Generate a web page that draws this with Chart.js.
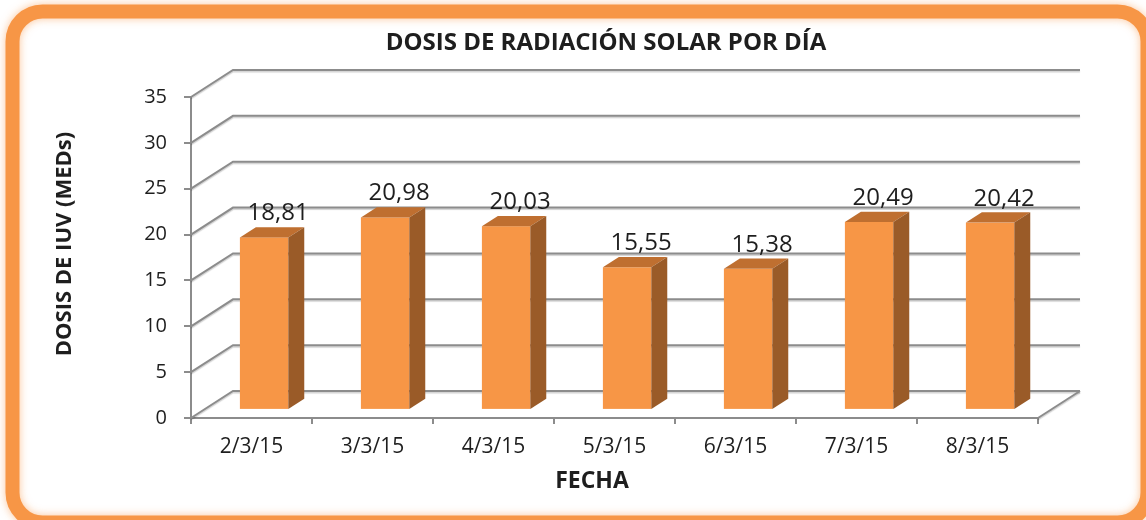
<!DOCTYPE html>
<html>
<head>
<meta charset="utf-8">
<script src="https://cdn.jsdelivr.net/npm/chart.js@4.4.1/dist/chart.umd.min.js"></script>
<style>
  html, body { margin: 0; padding: 0; background: #fff; }
  #wrap { width: 1146px; height: 520px; position: relative; }
</style>
</head>
<body>
<div id="wrap"><canvas id="dosisChart"></canvas></div>
<script>
// Datos
const fechas = ['2/3/15', '3/3/15', '4/3/15', '5/3/15', '6/3/15', '7/3/15', '8/3/15'];
const dosis = [18.81, 20.98, 20.03, 15.55, 15.38, 20.49, 20.42];
const ejeYMin = 0;
const ejeYMax = 35;
const ejeYPaso = 5;

const titulo = 'DOSIS DE RADIACIÓN SOLAR POR DÍA';
const tituloEjeY = 'DOSIS DE IUV (MEDs)';
const tituloEjeX = 'FECHA';

// Perspectiva 3D (pared del fondo y profundidad de las barras)
const FONDO_DX = 42, FONDO_DY = -27;
const BARRA_OFF = 0.3, BARRA_PROF = 0.38;
const GRIS = '#8c8c8c';
const TXT = '#1e1e1e';

Chart.defaults.font.family = '"Open Sans", "DejaVu Sans", sans-serif';
Chart.defaults.color = TXT;

// Marco naranja redondeado
const marco = {
    id: 'marco',
    beforeDraw(chart) {
        const c = chart.ctx;
        c.save();
        c.fillStyle = '#fff';
        c.fillRect(0, 0, chart.width, chart.height);
        c.shadowColor = 'rgba(247,150,70,0.55)';
        c.shadowBlur = 8;
        c.strokeStyle = '#f79646';
        c.lineWidth = 14;
        c.beginPath();
        c.roundRect(12.5, 11.5, 1135, 511, 30);
        c.stroke();
        c.restore();
    }
};

// Rejilla 3D: diagonales + líneas en la pared del fondo
const pared3d = {
    id: 'pared3d',
    beforeDatasetsDraw(chart) {
        const c = chart.ctx;
        const { left, right, bottom } = chart.chartArea;
        const ys = chart.scales.y;
        c.save();
        c.strokeStyle = GRIS;
        c.lineWidth = 2;
        c.shadowColor = 'rgba(0,0,0,0.18)';
        c.shadowOffsetY = 1.5;
        c.shadowBlur = 1;
        ys.ticks.forEach(t => {
            const y = ys.getPixelForValue(t.value);
            c.beginPath();
            c.moveTo(left, y);
            c.lineTo(left + FONDO_DX, y + FONDO_DY);
            c.lineTo(right + FONDO_DX, y + FONDO_DY);
            c.stroke();
        });
        c.beginPath();
        c.moveTo(right, bottom);
        c.lineTo(right + FONDO_DX, bottom + FONDO_DY);
        c.stroke();
        c.restore();
    }
};

// Barras 3D dibujadas a partir de los elementos de Chart.js
const barras3d = {
    id: 'barras3d',
    afterDatasetsDraw(chart) {
        const c = chart.ctx;
        const meta = chart.getDatasetMeta(0);
        const ox = FONDO_DX * BARRA_OFF, oy = FONDO_DY * BARRA_OFF;
        const px = FONDO_DX * BARRA_PROF, py = FONDO_DY * BARRA_PROF;
        c.save();
        meta.data.forEach((el, i) => {
            const { x, y, base, width } = el.getProps(['x', 'y', 'base', 'width'], true);
            const x0 = x - width / 2 + ox, x1 = x + width / 2 + ox;
            const yt = y + oy, yb = base + oy;
            // cara frontal
            c.fillStyle = '#f79646';
            c.fillRect(x0, yt, x1 - x0, yb - yt);
            // cara superior
            c.fillStyle = '#bf6f30';
            c.beginPath();
            c.moveTo(x0, yt);
            c.lineTo(x1, yt);
            c.lineTo(x1 + px, yt + py);
            c.lineTo(x0 + px, yt + py);
            c.closePath();
            c.fill();
            // cara lateral
            c.fillStyle = '#9a5b28';
            c.beginPath();
            c.moveTo(x1, yt);
            c.lineTo(x1 + px, yt + py);
            c.lineTo(x1 + px, yb + py);
            c.lineTo(x1, yb);
            c.closePath();
            c.fill();
            // etiqueta
            c.fillStyle = TXT;
            c.font = '24px "Open Sans", sans-serif';
            c.textAlign = 'center';
            c.textBaseline = 'alphabetic';
            const txt = dosis[i].toFixed(2).replace('.', ',');
            c.fillText(txt, (x0 + x1) / 2 + 14, yt - 17);
        });
        c.restore();
    }
};

// Títulos
const titulos = {
    id: 'titulos',
    afterDraw(chart) {
        const c = chart.ctx;
        c.save();
        c.fillStyle = TXT;
        c.textAlign = 'center';
        c.textBaseline = 'middle';
        c.font = 'bold 24px "Open Sans", sans-serif';
        c.fillText(titulo, 606, 43);
        c.font = 'bold 23px "Open Sans", sans-serif';
        c.fillText(tituloEjeX, 592, 481);
        c.font = 'bold 22px "Open Sans", sans-serif';
        c.translate(65, 244);
        c.rotate(-Math.PI / 2);
        c.fillText(tituloEjeY, 0, 0);
        c.restore();
    }
};

const ctx = document.getElementById('dosisChart').getContext('2d');
const dosisChart = new Chart(ctx, {
    type: 'bar',
    data: {
        labels: fechas,
        datasets: [{
            label: 'Dosis',
            data: dosis,
            backgroundColor: 'rgba(0,0,0,0)',
            borderWidth: 0,
            categoryPercentage: 1,
            barPercentage: 0.4
        }]
    },
    options: {
        responsive: true,
        maintainAspectRatio: false,
        animation: false,
        devicePixelRatio: 1,
        layout: { padding: { left: 0, right: 108, top: 97, bottom: 0 } },
        plugins: {
            legend: { display: false },
            title: { display: false },
            tooltip: { enabled: false }
        },
        scales: {
            x: {
                offset: true,
                afterFit(scale) { scale.height = 102; },
                grid: { offset: true, drawOnChartArea: false, tickLength: 6, color: GRIS, lineWidth: 2 },
                border: { color: GRIS, width: 2 },
                ticks: { padding: 10, font: { size: 21 }, color: TXT }
            },
            y: {
                min: ejeYMin,
                max: ejeYMax,
                afterFit(scale) { scale.width = 191; },
                grid: { drawOnChartArea: false, tickLength: 7, color: GRIS, lineWidth: 2 },
                border: { color: GRIS, width: 2 },
                ticks: { stepSize: ejeYPaso, padding: 17, font: { size: 20 }, color: TXT }
            }
        }
    },
    plugins: [marco, pared3d, barras3d, titulos]
});
</script>
</body>
</html>
